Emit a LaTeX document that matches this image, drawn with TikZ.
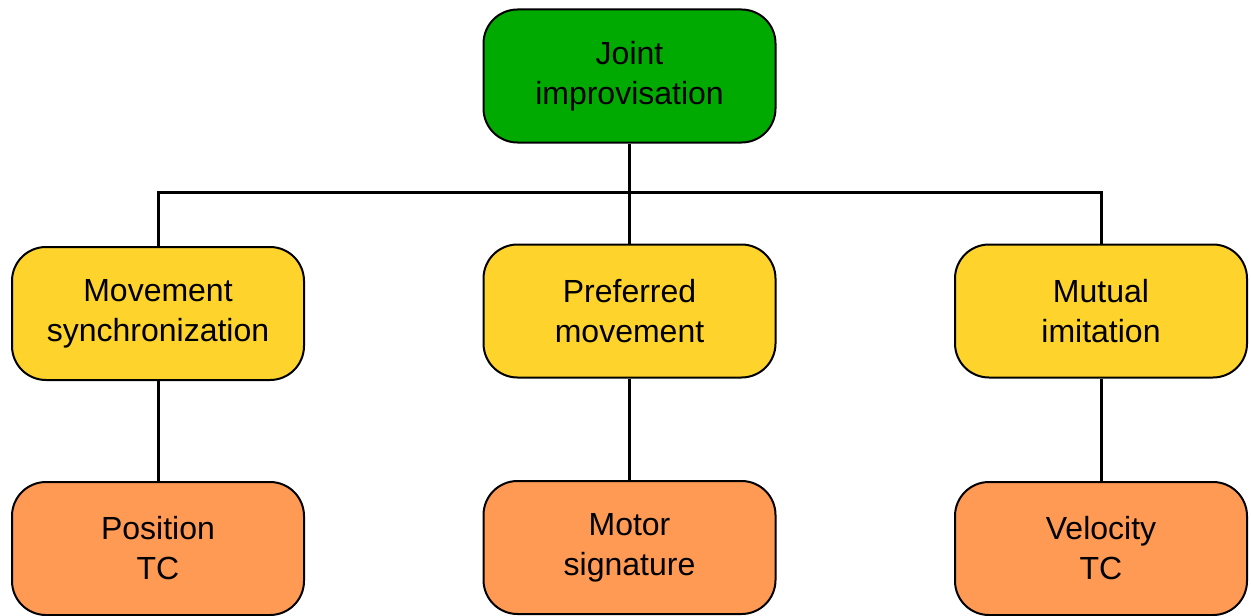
\documentclass[tikz,border=0pt]{standalone}
\usepackage{fontspec}
\setmainfont{Liberation Sans}
\usepackage{tikz}
\usetikzlibrary{positioning}
\definecolor{topgreen}{HTML}{00AA00}
\definecolor{midyellow}{HTML}{FDD32C}
\definecolor{loworange}{HTML}{FF9A55}
\tikzstyle{box} = [rectangle, rounded corners=17pt, minimum width=146pt, minimum height=66.5pt, text centered, align=center, draw=black, line width=1pt, font=\fontsize{16pt}{20pt}\selectfont]
\tikzstyle{link} = [line width=1.5pt]

\begin{document}
\begin{tikzpicture}
\useasboundingbox (0,0) rectangle (625.5pt,-307.5pt);
\node (joint) [box, fill=topgreen] at (314.75pt,-38pt) {Joint\\improvisation};
\node (movsync) [box, fill=midyellow] at (79pt,-156.75pt) {Movement\\synchronization};
\node (preferred) [box, fill=midyellow] at (314.75pt,-155.5pt) {Preferred\\movement};
\node (mutual) [box, fill=midyellow] at (550.5pt,-155.5pt) {Mutual\\imitation};
\node (position) [box, fill=loworange] at (79pt,-274.25pt) {Position\\TC};
\node (motor) [box, fill=loworange] at (314.75pt,-273.75pt) {Motor\\signature};
\node (velocity) [box, fill=loworange] at (550.5pt,-274.25pt) {Velocity\\TC};
\coordinate (bar) at (314.75pt,-96pt);

\draw [link] (joint) -- (bar);
\draw [link] (movsync) |- (bar) -| (mutual);
\draw [link] (bar) -- (preferred);
\draw [link] (movsync) -- (position);
\draw [link] (preferred) -- (motor);
\draw [link] (mutual) -- (velocity);
\end{tikzpicture}
\end{document}
